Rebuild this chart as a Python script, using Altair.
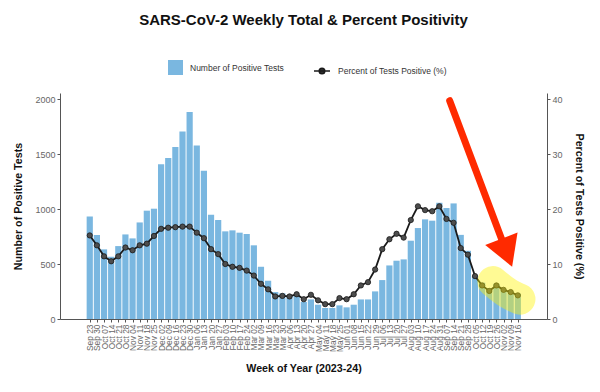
import altair as alt
import pandas as pd

FONT = "Liberation Sans"

weeks = ["Sep 23", "Sep 30", "Oct 07", "Oct 14", "Oct 21", "Oct 28", "Nov 04", "Nov 11",
         "Nov 18", "Nov 25", "Dec 02", "Dec 09", "Dec 16", "Dec 23", "Dec 30", "Jan 06",
         "Jan 13", "Jan 20", "Jan 27", "Feb 03", "Feb 10", "Feb 17", "Feb 24", "Mar 02",
         "Mar 09", "Mar 16", "Mar 23", "Mar 30", "Apr 06", "Apr 13", "Apr 20", "Apr 27",
         "May 04", "May 11", "May 18", "May 25", "Jun 01", "Jun 08", "Jun 15", "Jun 22",
         "Jun 29", "Jul 06", "Jul 13", "Jul 20", "Jul 27", "Aug 03", "Aug 10", "Aug 17",
         "Aug 24", "Aug 31", "Sep 07", "Sep 14", "Sep 21", "Sep 28", "Oct 05", "Oct 12",
         "Oct 19", "Oct 26", "Nov 02", "Nov 09", "Nov 16"]

positives = [933, 764, 633, 566, 663, 769, 733, 878, 985, 1003,
             1406, 1463, 1564, 1706, 1882, 1578, 1348, 948, 900, 797,
             806, 785, 773, 670, 475, 348, 245, 233, 215, 209,
             155, 178, 130, 100, 100, 124, 106, 130, 178, 178,
             251, 354, 487, 530, 542, 712, 827, 906, 894, 1057,
             1009, 1051, 765, 620, 390, 330, 280, 320, 270, 250, 230]

percent = [15.2, 13.4, 11.4, 10.5, 11.4, 13.0, 12.5, 13.4, 13.7, 15.1,
           16.4, 16.6, 16.7, 16.8, 16.8, 15.7, 14.7, 12.7, 11.8, 10.0,
           9.5, 9.3, 8.8, 7.9, 6.4, 5.4, 4.1, 4.2, 4.1, 4.5,
           3.6, 4.4, 3.4, 2.7, 2.7, 3.8, 3.6, 4.5, 6.1, 6.7,
           9.0, 12.7, 14.5, 15.5, 14.8, 18.0, 20.5, 19.8, 19.6, 20.5,
           18.2, 17.5, 12.9, 11.7, 7.8, 6.1, 5.1, 6.1, 5.3, 4.9, 4.3]

# annotations (yellow highlight of the latest weeks, red arrow) in data units
highlight_week_pos = [56.5, 58.5, 60.3]
highlight_pct = [6.8, 4.8, 3.6]
arrow_week_pos = [50.45, 58.45]
arrow_pct = [39.7, 12.05]
head_week_pos = [58.45]
head_pct = [12.05]

BAR_LABEL = "Number of Positive Tests"
LINE_LABEL = "Percent of Tests Positive (%)"

idx = list(range(len(weeks)))
df = pd.DataFrame({"idx": idx, "week": weeks, "positives": positives, "percent": percent})
df["bar_series"] = BAR_LABEL
df["line_series"] = LINE_LABEL
hl_df = pd.DataFrame({"idx": highlight_week_pos, "percent": highlight_pct})
arrow_df = pd.DataFrame({"idx": arrow_week_pos, "percent": arrow_pct})
head_df = pd.DataFrame({"idx": head_week_pos, "percent": head_pct})

label_array = "[" + ",".join("'" + w + "'" for w in weeks) + "]"

x_enc = alt.X(
    "idx:Q",
    scale=alt.Scale(domain=[-3.47, len(weeks) - 1 + 3.39], nice=False, zero=False),
    axis=alt.Axis(title="Week of Year (2023-24)", values=idx,
                  labelExpr=label_array + "[datum.value]",
                  labelAngle=270, labelFontSize=8.4, labelAlign="right", labelBaseline="middle",
                  labelPadding=2, tickSize=3, titlePadding=12, labelOverlap=False,
                  labelFlush=False),
)

y_right = alt.Y(
    "percent:Q",
    scale=alt.Scale(domain=[0, 41.1], nice=False),
    axis=alt.Axis(values=[0, 10, 20, 30, 40], orient="right", title=LINE_LABEL,
                  titleAngle=90, tickSize=3, labelPadding=2, titlePadding=11),
)

bars = alt.Chart(df).mark_bar(size=6.2).encode(
    x=x_enc,
    y=alt.Y("positives:Q", scale=alt.Scale(domain=[0, 2055], nice=False),
            axis=alt.Axis(values=[0, 500, 1000, 1500, 2000], orient="left", format="d",
                          title=BAR_LABEL, tickSize=3, labelPadding=2, titlePadding=11)),
    fill=alt.Fill("bar_series:N",
                  scale=alt.Scale(domain=[BAR_LABEL], range=["#7ab7e0"]),
                  legend=alt.Legend(title=None, orient="none", legendX=108, legendY=-33,
                                    symbolType="square", symbolSize=225, labelOffset=7,
                                    labelFontSize=8.5, symbolStrokeWidth=0)),
)

line = alt.Chart(df).mark_line(strokeWidth=1.8).encode(
    x=x_enc,
    y=y_right,
    stroke=alt.Stroke("line_series:N",
                      scale=alt.Scale(domain=[LINE_LABEL], range=["#1a1a1a"]),
                      legend=alt.Legend(title=None, orient="none", legendX=253, legendY=-31,
                                        symbolType="M-1,0L1,0M-0.35,0A0.35,0.35,0,1,0,0.35,0A0.35,0.35,0,1,0,-0.35,0Z",
                                        symbolSize=256, symbolStrokeWidth=1.5,
                                        symbolFillColor="#333", labelOffset=7,
                                        labelFontSize=8.5)),
)

points = alt.Chart(df).mark_circle(size=28, color="#4d4d4d", stroke="#1a1a1a",
                                   strokeWidth=0.8, opacity=1).encode(x=x_enc, y=y_right)

highlight = alt.Chart(hl_df).mark_line(color="#fff200", strokeWidth=31, strokeCap="round",
                                       strokeJoin="round", opacity=0.42,
                                       interpolate="monotone").encode(x=x_enc, y=y_right)

arrow = alt.Chart(arrow_df).mark_line(color="#ff2a00", strokeWidth=7,
                                      strokeCap="round").encode(x=x_enc, y=y_right)

head = alt.Chart(head_df).mark_point(shape="triangle-down", size=1200, filled=True,
                                     color="#ff2a00", angle=339, opacity=1).encode(x=x_enc, y=y_right)

right_layer = alt.layer(line, points, highlight, arrow, head)

chart = alt.layer(bars, right_layer).resolve_scale(y="independent").properties(
    width=487,
    height=226,
    padding={"left": 52, "top": 85, "right": 45, "bottom": 62},
    autosize=alt.AutoSizeParams(type="none"),
    title=alt.Title("SARS-CoV-2 Weekly Total & Percent Positivity", anchor="middle",
                    fontSize=15, fontWeight="bold", color="#111", offset=32, font=FONT),
).configure_view(stroke=None).configure_axis(
    grid=False, labelFont=FONT, titleFont=FONT, domainColor="#555", tickColor="#555",
    labelColor="#666", labelFontSize=9, titleFontSize=10.7, titleFontWeight="bold",
    titleColor="#111",
).configure_legend(labelFont=FONT, labelColor="#333")

chart.save("out.html", embed_options={"renderer": "svg", "actions": False})
